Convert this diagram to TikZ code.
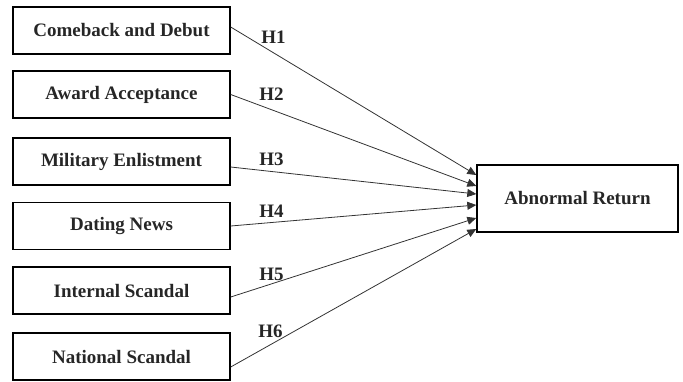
\documentclass[tikz,border=0pt]{standalone}
\usepackage{fontspec}
\setmainfont{Liberation Serif}
\usetikzlibrary{arrows.meta}
\begin{document}
\begin{tikzpicture}[x=1pt,y=-1pt,
  srcbox/.style={draw=black,line width=1.4pt,minimum width=217pt,minimum height=47pt,inner sep=0pt,
    font=\fontsize{19}{22}\selectfont\bfseries,text=black!85},
  dstbox/.style={draw=black,line width=1.4pt,minimum width=201pt,minimum height=67pt,inner sep=0pt,
    font=\fontsize{19}{22}\selectfont\bfseries,text=black!85},
  hlabel/.style={font=\fontsize{19}{22}\selectfont\bfseries,text=black!85,inner sep=0pt},
  link/.style={draw=black!80,line width=0.8pt,-{Triangle[length=9pt,width=8pt]}}]
\useasboundingbox (0,0) rectangle (683,381);
\node[srcbox] (b1) at (121.5,30.5) {Comeback and Debut};
\node[srcbox] (b2) at (121.5,94.5) {Award Acceptance};
\node[srcbox] (b3) at (121.5,161.5) {Military Enlistment};
\node[srcbox] (b4) at (121.5,226) {Dating News};
\node[srcbox] (b5) at (121.5,290.5) {Internal Scandal};
\node[srcbox] (b6) at (121.5,356.5) {National Scandal};
\node[dstbox] (ar) at (577.5,198.5) {Abnormal Return};
\draw[link] ([yshift=3.5pt]b1.east) -- ([yshift=23.5pt]ar.west);
\draw[link] (b2.east) -- ([yshift=12.5pt]ar.west);
\draw[link] ([yshift=-5.5pt]b3.east) -- ([yshift=4.5pt]ar.west);
\draw[link] (b4.east) -- ([yshift=-6.5pt]ar.west);
\draw[link] ([yshift=-6.5pt]b5.east) -- ([yshift=-19.5pt]ar.west);
\draw[link] ([yshift=-10.5pt]b6.east) -- ([yshift=-30.5pt]ar.west);
\node[hlabel] (h1) at (273.5,37.5) {H1};
\node[hlabel] (h2) at (271.5,94) {H2};
\node[hlabel] (h3) at (271.5,159) {H3};
\node[hlabel] (h4) at (271.5,211) {H4};
\node[hlabel] (h5) at (271.5,274) {H5};
\node[hlabel] (h6) at (270.5,331) {H6};
\end{tikzpicture}
\end{document}
